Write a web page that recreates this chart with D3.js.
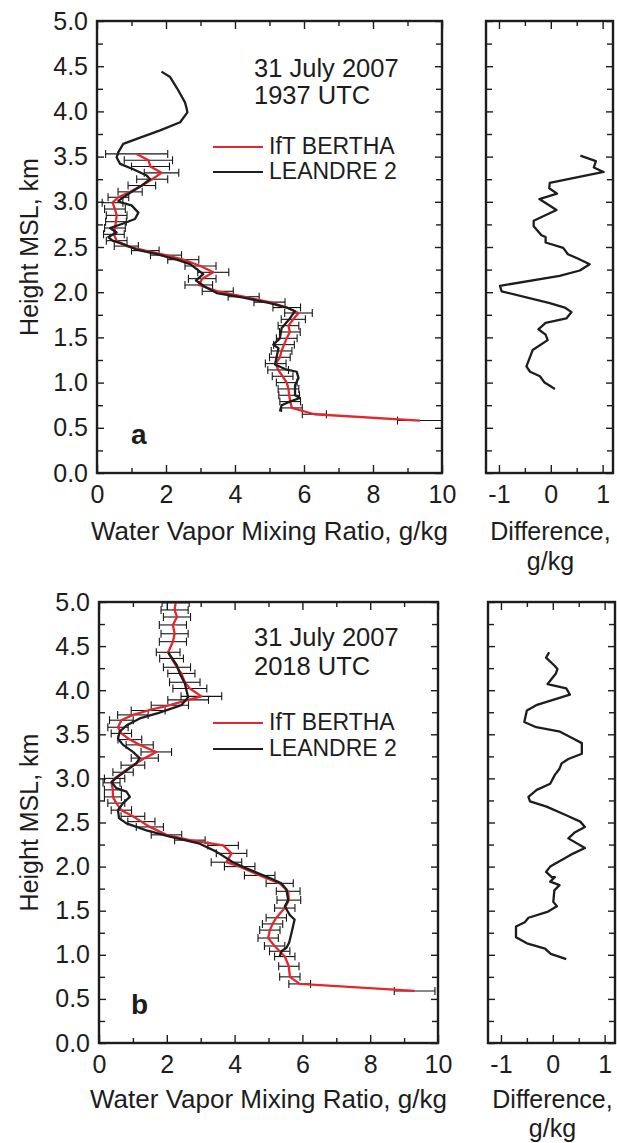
<!DOCTYPE html>
<html>
<head>
<meta charset="utf-8">
<script src="https://cdn.jsdelivr.net/npm/d3@7"></script>
<style>
body { margin: 0; background: #fff; }
svg { display: block; font-family: 'Liberation Sans', Arial, sans-serif; }
</style>
</head>
<body>
<svg id="chart" width="617" height="1143"></svg>
<script>
// ---- data: [height km, mixing ratio g/kg, error g/kg] ----
var berthaA = [
    [3.53,1.15,0.9],[3.46,1.49,0.7],[3.39,1.55,0.55],[3.32,1.87,0.5],[3.25,1.6,0.45],
    [3.18,1.3,0.4],[3.11,0.96,0.35],[3.05,0.62,0.3],[2.99,0.45,0.3],[2.92,0.52,0.3],
    [2.85,0.57,0.3],[2.78,0.55,0.3],[2.71,0.52,0.3],[2.64,0.49,0.3],[2.57,0.57,0.3],
    [2.51,0.85,0.35],[2.46,1.4,0.4],[2.41,2.0,0.45],[2.36,2.5,0.45],[2.29,3.0,0.45],
    [2.22,3.37,0.45],[2.15,3.05,0.4],[2.08,2.95,0.4],[2.01,3.5,0.45],[1.95,4.25,0.45],
    [1.89,5.0,0.45],[1.83,5.5,0.4],[1.77,5.84,0.4],[1.70,5.69,0.35],[1.63,5.55,0.3],
    [1.56,5.59,0.3],[1.49,5.5,0.3],[1.42,5.42,0.3],[1.35,5.35,0.3],[1.28,5.3,0.3],
    [1.21,5.18,0.3],[1.14,5.25,0.3],[1.07,5.38,0.3],[1.00,5.5,0.3],[0.93,5.55,0.3],
    [0.86,5.57,0.3],[0.79,5.6,0.3],[0.72,5.65,0.3],[0.65,6.3,0.35],[0.58,9.36,0.65]
];
// [height km, mixing ratio g/kg]
var leandreA = [
    [4.44,1.87],[4.38,2.12],[4.25,2.33],[4.10,2.55],[4.03,2.60],[3.99,2.62],[3.88,2.41],
    [3.79,1.83],[3.71,1.25],[3.64,0.76],[3.55,0.62],[3.49,0.57],[3.42,0.67],[3.36,1.05],
    [3.29,1.44],[3.25,1.54],[3.18,1.30],[3.10,0.96],[3.01,0.62],[2.99,0.72],[2.96,1.00],
    [2.88,1.20],[2.81,1.10],[2.76,0.76],[2.71,0.38],[2.66,0.57],[2.61,0.33],[2.57,0.45],
    [2.52,0.85],[2.47,1.15],[2.42,1.73],[2.36,2.31],[2.31,2.70],[2.20,3.08],[2.13,2.87],
    [2.06,3.13],[1.99,3.47],[1.94,4.24],[1.88,5.01],[1.83,5.50],[1.79,5.74],[1.71,5.59],
    [1.60,5.35],[1.49,5.30],[1.42,5.11],[1.38,5.26],[1.29,5.21],[1.20,5.16],[1.15,5.45],
    [1.12,5.79],[1.05,5.84],[0.97,5.74],[0.86,5.74],[0.83,5.88],[0.79,5.59],[0.75,5.35],
    [0.68,5.30]
];
// [height km, difference g/kg]
var diffA = [
    [3.51,0.57],[3.45,0.87],[3.38,0.83],[3.33,1.02],[3.21,-0.02],[3.15,-0.03],[3.09,0.12],
    [3.03,-0.22],[2.91,0.11],[2.79,-0.33],[2.73,-0.33],[2.63,-0.18],[2.61,-0.10],[2.55,-0.10],
    [2.49,0.24],[2.42,0.33],[2.37,0.53],[2.31,0.75],[2.24,0.56],[2.18,0.17],[2.07,-0.98],
    [2.01,-0.95],[1.88,-0.02],[1.83,0.27],[1.78,0.40],[1.71,0.30],[1.66,-0.10],[1.59,-0.24],
    [1.53,-0.10],[1.47,-0.06],[1.36,-0.35],[1.18,-0.47],[1.12,-0.40],[1.07,-0.21],[1.00,-0.12],
    [0.93,0.08]
];

var berthaB = [
    [4.99,2.26,0.4],[4.91,2.23,0.4],[4.83,2.30,0.4],[4.74,2.18,0.4],[4.64,2.23,0.4],
    [4.55,2.18,0.4],[4.43,2.04,0.35],[4.36,2.14,0.35],[4.26,2.30,0.4],[4.19,2.43,0.4],
    [4.09,2.53,0.45],[4.02,2.68,0.5],[3.93,3.02,0.6],[3.89,2.63,0.6],[3.83,2.09,0.55],
    [3.77,1.45,0.5],[3.72,1.00,0.45],[3.66,0.66,0.35],[3.58,0.56,0.3],[3.51,0.66,0.3],
    [3.44,0.91,0.35],[3.38,1.20,0.4],[3.30,1.69,0.45],[3.23,1.35,0.4],[3.15,1.00,0.35],
    [3.07,0.71,0.3],[3.00,0.46,0.3],[2.95,0.37,0.25],[2.87,0.41,0.25],[2.79,0.41,0.25],
    [2.72,0.51,0.25],[2.64,0.66,0.3],[2.57,1.00,0.35],[2.51,1.25,0.4],[2.45,1.50,0.4],
    [2.36,1.99,0.45],[2.30,2.68,0.45],[2.24,3.66,0.45],[2.15,3.91,0.45],[2.05,3.76,0.45],
    [2.00,4.15,0.45],[1.90,4.74,0.45],[1.81,5.33,0.4],[1.72,5.58,0.35],[1.62,5.60,0.35],
    [1.53,5.48,0.3],[1.42,5.23,0.3],[1.35,5.12,0.3],[1.28,5.04,0.3],[1.19,4.99,0.3],
    [1.10,5.18,0.3],[1.04,5.33,0.3],[0.98,5.48,0.3],[0.87,5.60,0.3],[0.75,5.63,0.3],
    [0.67,5.92,0.32],[0.59,9.31,0.6]
];
var leandreB = [
    [4.43,2.04],[4.28,2.30],[4.19,2.38],[4.08,2.53],[3.92,2.63],[3.83,2.43],[3.74,1.74],
    [3.68,1.20],[3.60,0.81],[3.53,0.61],[3.45,0.56],[3.38,0.71],[3.30,1.00],[3.23,1.20],
    [3.17,1.10],[3.09,0.81],[3.02,0.56],[2.96,0.37],[2.89,0.51],[2.85,0.81],[2.79,0.91],
    [2.72,0.71],[2.64,0.56],[2.55,0.59],[2.49,0.81],[2.41,1.40],[2.34,2.09],[2.26,2.97],
    [2.17,3.46],[2.05,3.95],[1.98,4.35],[1.87,5.04],[1.81,5.38],[1.74,5.53],[1.62,5.58],
    [1.55,5.48],[1.45,5.63],[1.40,5.77],[1.25,5.68],[1.14,5.61],[1.08,5.53],[1.04,5.38],
    [0.98,5.33]
];
var diffB = [
    [4.43,-0.07],[4.37,-0.13],[4.28,0.03],[4.24,0.09],[4.19,0.06],[4.07,-0.10],[4.02,0.26],
    [3.95,0.33],[3.83,-0.32],[3.77,-0.50],[3.64,-0.55],[3.58,-0.32],[3.53,0.14],[3.45,0.40],
    [3.40,0.56],[3.28,0.56],[3.22,0.30],[3.17,0.17],[3.11,0.13],[3.04,0.04],[2.94,-0.05],
    [2.87,-0.31],[2.79,-0.47],[2.74,-0.44],[2.68,-0.12],[2.58,0.27],[2.51,0.53],[2.45,0.62],
    [2.39,0.43],[2.32,0.30],[2.21,0.62],[2.15,0.40],[2.00,-0.05],[1.94,-0.13],[1.88,-0.02],
    [1.88,0.04],[1.83,-0.05],[1.79,0.13],[1.73,0.03],[1.60,0.01],[1.55,0.08],[1.49,-0.09],
    [1.42,-0.47],[1.37,-0.54],[1.32,-0.71],[1.20,-0.71],[1.13,-0.50],[1.07,-0.15],[1.01,-0.04],
    [0.95,0.26]
];

var mainTicksMajor = [0, 2, 4, 6, 8, 10];
var mainTicksMinor = [1, 3, 5, 7, 9];
var diffTicksMajor = [-1, 0, 1];
var diffTicksMinor = [-0.5, 0.5];
var heightLabels = d3.range(0, 5.01, 0.5);
var heightMinor = d3.range(0.25, 5, 0.5);

var panels = [
    { id: 'a', date: '31 July 2007', time: '1937 UTC', bertha: berthaA, leandre: leandreA, diff: diffA,
      main: {l: 97, r: 442, t: 21, b: 473}, side: {l: 486, r: 613},
      text: {y1: 77, y2: 104, leg1: 147, leg2: 172, title: 540, unit: 570} },
    { id: 'b', date: '31 July 2007', time: '2018 UTC', bertha: berthaB, leandre: leandreB, diff: diffB,
      main: {l: 99, r: 438, t: 602, b: 1043}, side: {l: 488, r: 615},
      text: {y1: 646, y2: 675, leg1: 723, leg2: 749, title: 1108, unit: 1137} }
];

var svg = d3.select('#chart');
var red = '#e5262b', ink = '#1d1d1d';

function addTicks(g, x, y, xMajor, xMinor, showLabels, xFormat) {
    var H = y.range()[0], T = y.range()[1];
    var L = x.range()[0], R = x.range()[1];
    g.append('g').attr('transform', 'translate(0,' + H + ')')
        .call(d3.axisBottom(x).tickValues(xMajor).tickSize(-8).tickPadding(12).tickFormat(xFormat));
    g.append('g').attr('transform', 'translate(0,' + H + ')')
        .call(d3.axisBottom(x).tickValues(xMinor).tickSize(-5).tickFormat(''));
    g.append('g').attr('transform', 'translate(0,' + T + ')')
        .call(d3.axisTop(x).tickValues(xMajor).tickSize(-8).tickFormat(''));
    g.append('g').attr('transform', 'translate(0,' + T + ')')
        .call(d3.axisTop(x).tickValues(xMinor).tickSize(-5).tickFormat(''));
    g.append('g').attr('transform', 'translate(' + L + ',0)')
        .call(d3.axisLeft(y).tickValues(heightLabels).tickSize(-7).tickPadding(9)
            .tickFormat(showLabels ? d3.format('.1f') : ''));
    g.append('g').attr('transform', 'translate(' + L + ',0)')
        .call(d3.axisLeft(y).tickValues(heightMinor).tickSize(-6).tickFormat(''));
    g.append('g').attr('transform', 'translate(' + R + ',0)')
        .call(d3.axisRight(y).tickValues(heightLabels).tickSize(-7).tickFormat(''));
    g.append('g').attr('transform', 'translate(' + R + ',0)')
        .call(d3.axisRight(y).tickValues(heightMinor).tickSize(-6).tickFormat(''));

    g.selectAll('.domain').remove();
    g.selectAll('.tick line').attr('stroke', ink).attr('stroke-width', 1.4);
    g.selectAll('.tick text').attr('fill', ink).style('font-size', '25px')
        .style('font-family', "'Liberation Sans', Arial, sans-serif");

    g.append('rect')
        .attr('x', L).attr('y', T).attr('width', R - L).attr('height', H - T)
        .attr('fill', 'none').attr('stroke', ink).attr('stroke-width', 2.4);
}

panels.forEach(function(p, i) {
    var m = p.main;
    var x = d3.scaleLinear().domain([0, 10]).range([m.l, m.r]);
    var y = d3.scaleLinear().domain([0, 5]).range([m.b, m.t]);
    var xd = d3.scaleLinear().domain([-1.25, 1.2]).range([p.side.l, p.side.r]);

    var g = svg.append('g');
    var clipId = 'clip' + i;
    g.append('clipPath').attr('id', clipId).append('rect')
        .attr('x', m.l).attr('y', m.t).attr('width', m.r - m.l).attr('height', m.b - m.t);

    var plot = g.append('g').attr('clip-path', 'url(#' + clipId + ')');

    // error bars of the IfT BERTHA profile
    var bars = plot.append('g').attr('stroke', '#151515').attr('stroke-width', 1.1);
    bars.selectAll('line.h').data(p.bertha).enter().append('line').attr('class', 'h')
        .attr('x1', d => x(d[1] - d[2])).attr('x2', d => x(d[1] + d[2]))
        .attr('y1', d => y(d[0])).attr('y2', d => y(d[0]));
    bars.selectAll('line.cl').data(p.bertha).enter().append('line').attr('class', 'cl')
        .attr('x1', d => x(d[1] - d[2])).attr('x2', d => x(d[1] - d[2]))
        .attr('y1', d => y(d[0]) - 4).attr('y2', d => y(d[0]) + 4);
    bars.selectAll('line.cr').data(p.bertha).enter().append('line').attr('class', 'cr')
        .attr('x1', d => x(d[1] + d[2])).attr('x2', d => x(d[1] + d[2]))
        .attr('y1', d => y(d[0]) - 4).attr('y2', d => y(d[0]) + 4);

    var line = d3.line().x(d => x(d[1])).y(d => y(d[0]));
    plot.append('path').datum(p.bertha).attr('d', line)
        .attr('fill', 'none').attr('stroke', red).attr('stroke-width', 2.3).attr('stroke-linejoin', 'round');
    plot.append('path').datum(p.leandre).attr('d', line)
        .attr('fill', 'none').attr('stroke', ink).attr('stroke-width', 2.3).attr('stroke-linejoin', 'round');

    addTicks(g, x, y, mainTicksMajor, mainTicksMinor, true, d3.format('d'));

    // difference panel
    var ds = g.append('g');
    ds.append('path').datum(p.diff)
        .attr('d', d3.line().x(d => xd(d[1])).y(d => y(d[0])))
        .attr('fill', 'none').attr('stroke', ink).attr('stroke-width', 2.3).attr('stroke-linejoin', 'round');
    addTicks(ds, xd, y, diffTicksMajor, diffTicksMinor, false, d => String(d));

    // annotations
    var t = p.text;
    g.append('text').attr('x', 254).attr('y', t.y1).style('font-size', '25.5px').attr('fill', ink).text(p.date);
    g.append('text').attr('x', 254).attr('y', t.y2).style('font-size', '25.5px').attr('fill', ink).text(p.time);

    g.append('line').attr('x1', 213).attr('x2', 263).attr('y1', t.leg1).attr('y2', t.leg1)
        .attr('stroke', red).attr('stroke-width', 2.2);
    g.append('text').attr('x', 269).attr('y', t.leg1 + 7).style('font-size', '23px').attr('fill', ink).text('IfT BERTHA');
    g.append('line').attr('x1', 213).attr('x2', 263).attr('y1', t.leg2).attr('y2', t.leg2)
        .attr('stroke', ink).attr('stroke-width', 2.2);
    g.append('text').attr('x', 269).attr('y', t.leg2 + 7).style('font-size', '23px').attr('fill', ink).text('LEANDRE 2');

    g.append('text').attr('x', 131).attr('y', m.b - 29).style('font-size', '28px')
        .style('font-weight', 'bold').attr('fill', ink).text(p.id);

    // axis titles
    g.append('text')
        .attr('transform', 'translate(38,' + ((m.t + m.b) / 2) + ') rotate(-90)')
        .attr('text-anchor', 'middle').style('font-size', '25px').attr('fill', ink)
        .text('Height MSL, km');
    g.append('text').attr('x', (m.l + m.r) / 2).attr('y', t.title)
        .attr('text-anchor', 'middle').style('font-size', '26px').attr('fill', ink)
        .text('Water Vapor Mixing Ratio, g/kg');
    var cx = (p.side.l + p.side.r) / 2 + 1;
    g.append('text').attr('x', cx).attr('y', t.title)
        .attr('text-anchor', 'middle').style('font-size', '25px').attr('fill', ink).text('Difference,');
    g.append('text').attr('x', cx).attr('y', t.unit)
        .attr('text-anchor', 'middle').style('font-size', '25px').attr('fill', ink).text('g/kg');
});
</script>
</body>
</html>
